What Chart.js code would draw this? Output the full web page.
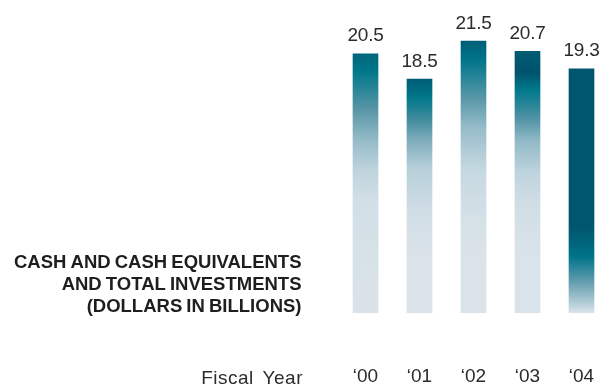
<!DOCTYPE html>
<html>
<head>
<meta charset="utf-8">
<script src="https://cdn.jsdelivr.net/npm/chart.js@4"></script>
<style>
  html, body { margin:0; padding:0; background:#fff; }
  #wrap { width:601px; height:385px; overflow:hidden; position:relative; }
  #chart { position:absolute; left:0; top:0; }
</style>
</head>
<body>
<div id="wrap"><canvas id="chart" width="610" height="385"></canvas></div>
<script>
// data
const years = ['\u201800', '\u201801', '\u201802', '\u201803', '\u201804'];
const cashTotals = [20.5, 18.5, 21.5, 20.7, 19.3];
const titleLines = ['CASH AND CASH EQUIVALENTS', 'AND TOTAL INVESTMENTS', '(DOLLARS IN BILLIONS)'];
const axisLabel = 'Fiscal Year';

// gradient stops per bar, [fraction from top of bar, colour]
const barShades = [
  [[0,'#00657c'],[0.07,'#00788a'],[0.22,'#5b97a8'],[0.34,'#98bdca'],[0.45,'#bfd4dd'],[0.57,'#d2dfe6'],[1,'#dbe3ea']],
  [[0,'#005d76'],[0.08,'#00788a'],[0.17,'#3f8b9c'],[0.26,'#7eacbb'],[0.38,'#b6cfd9'],[0.56,'#d0dde5'],[0.77,'#dbe3ea'],[1,'#dbe3ea']],
  [[0,'#005e77'],[0.07,'#00758a'],[0.21,'#5897a8'],[0.32,'#97bcca'],[0.47,'#c5d8e0'],[0.65,'#d5e0e7'],[0.8,'#dbe3ea'],[1,'#dbe3ea']],
  [[0,'#005c74'],[0.08,'#00526b'],[0.15,'#007a8c'],[0.25,'#4b90a2'],[0.34,'#90b8c6'],[0.46,'#bdd3dd'],[0.57,'#cfdde5'],[0.8,'#dbe3ea'],[1,'#dbe3ea']],
  [[0,'#00566e'],[0.65,'#00566e'],[0.77,'#007489'],[0.885,'#6fa3b3'],[0.97,'#bcd3dd'],[1,'#dbe3ea']]
];

const FONT = '"Liberation Sans", Arial, Helvetica, sans-serif';
const TEXT = '#2b2b2b';

function barFill(ctx) {
  const chart = ctx.chart;
  const y = chart.scales.y;
  if (!chart.chartArea || !y) return '#00687e';
  const i = ctx.dataIndex;
  const top = y.getPixelForValue(cashTotals[i]);
  const bottom = y.getPixelForValue(0);
  const g = chart.ctx.createLinearGradient(0, top, 0, bottom);
  barShades[i].forEach(([f, c]) => g.addColorStop(f, c));
  return g;
}

// value labels above bars
const valueLabels = {
  id: 'valueLabels',
  afterDatasetsDraw(chart) {
    const c = chart.ctx;
    const meta = chart.getDatasetMeta(0);
    c.save();
    c.font = '19px ' + FONT;
    c.letterSpacing = '-0.2px';
    c.fillStyle = TEXT;
    c.textAlign = 'center';
    c.textBaseline = 'alphabetic';
    meta.data.forEach((bar, i) => {
      c.fillText(cashTotals[i].toFixed(1), bar.x, bar.y - 12.5);
    });
    c.restore();
  }
};

// left-hand caption + axis name
const caption = {
  id: 'caption',
  afterDraw(chart) {
    const c = chart.ctx;
    const a = chart.chartArea;
    const right = a.left - 37;
    c.save();
    c.fillStyle = '#1e1e1e';
    c.textAlign = 'right';
    c.textBaseline = 'alphabetic';
    c.font = 'bold 18.5px ' + FONT;
    c.wordSpacing = '-1px';
    titleLines.forEach((t, i) => c.fillText(t, right, a.bottom - 45 + i * 22));
    c.font = '19px ' + FONT;
    c.fillStyle = TEXT;
    c.wordSpacing = '3px';
    c.letterSpacing = '0.5px';
    c.fillText(axisLabel, right + 1.5, a.bottom + 70.5);
    c.restore();
  }
};

new Chart(document.getElementById('chart'), {
  type: 'bar',
  data: {
    labels: years,
    datasets: [{
      data: cashTotals,
      backgroundColor: barFill,
      borderWidth: 0,
      barThickness: 25,
      categoryPercentage: 1
    }]
  },
  options: {
    responsive: false,
    animation: false,
    layout: { padding: { left: 338.5, right: 1.5, top: 0, bottom: 0 } },
    plugins: { legend: { display: false }, tooltip: { enabled: false }, title: { display: false } },
    scales: {
      y: { display: false, min: 0, max: 24.75 },
      x: {
        grid: { display: false, drawTicks: false },
        border: { display: false },
        ticks: { color: TEXT, font: { family: FONT, size: 19 }, padding: 52.3, maxRotation: 0 },
        // keep the plot area fixed: no side padding from the tick labels
        afterFit: (s) => { s.height = 72; s.paddingLeft = 0; s.paddingRight = 0; }
      }
    }
  },
  plugins: [valueLabels, caption]
});
</script>
</body>
</html>
